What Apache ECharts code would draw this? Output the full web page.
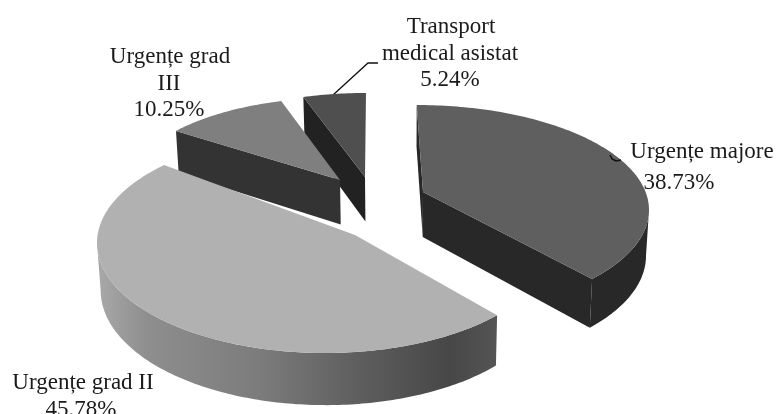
<!DOCTYPE html>
<html>
<head>
<meta charset="utf-8">
<style>html,body{margin:0;padding:0;background:#fff}#c{width:776px;height:414px}</style>
<script src="https://cdn.jsdelivr.net/npm/echarts@6/dist/echarts.min.js"></script>
</head>
<body>
<div id="c"></div>
<script>
// ---- data ----
const categories = ['Urgențe majore', 'Urgențe grad II', 'Urgențe grad III', 'Transport medical asistat'];
const shares = [38.73, 45.78, 10.25, 5.24];
const labelLines = [['Urgențe majore'], ['Urgențe grad II'], ['Urgențe grad', 'III'], ['Transport', 'medical asistat']];

// ---- presentation (one entry per category) ----
const FONT = '"Liberation Serif", "Times New Roman", serif';
const sliceStyle = [
  { ex:417, ey:210, rx:232, ry:105, ax:423, ay:192, spread:0.94,  rot:-4.25, top:'#5f5f5f', side:'#282828', faces:['start','end'], layer:3 },
  { ex:325, ey:243, rx:228, ry:110, ax:355, ay:235, spread:1.117, rot:1.2,   top:'#b1b1b1', side:'#444444', faces:[],             layer:4 },
  { ex:340, ey:186.5, rx:210, ry:89, ax:340, ay:180, spread:0.951, rot:3.5,  top:'#7f7f7f', side:'#333333', faces:['start'],      layer:2 },
  { ex:366, ey:182, rx:210, ry:89,  ax:365, ay:177, spread:0.92,  rot:0.75,  top:'#4f4f4f', side:'#222222', faces:['start'],      layer:1 }
];
const labelPlaces = [
  [[702,151.5],[679,182.5]],
  [[83,382.5],[81,409.5]],
  [[170,56.5],[169,83.5],[169,109.5]],
  [[451,26.5],[450,53.5],[450,79.5]]
];
const wallGradient = { type:'linear', x:99, y:0, x2:498, y2:0, global:true, colorStops:[
  {offset:0,color:'#a8a8a8'},{offset:0.12,color:'#8e8e8e'},{offset:0.4,color:'#7c7c7c'},
  {offset:0.65,color:'#5e5e5e'},{offset:0.88,color:'#474747'},{offset:1,color:'#555555'}
]};

const rad = d => d * Math.PI / 180;
const depthAt = y => 41 + (y - 100) * 0.044;
const lower = p => [p[0] + (400 - p[0]) * 0.012, p[1] + depthAt(p[1])];

const total = shares.reduce((a, b) => a + b, 0);
let acc = 0;
const angles = shares.map(v => { const s = acc / total * 360; acc += v; return [s, acc / total * 360]; });

function renderItem(params) {
  const i = params.dataIndex, st = sliceStyle[i];
  const [t0, t1] = angles[i], mid = (t0 + t1) / 2;
  const toP = t => mid + (t - mid) * st.spread + st.rot;
  const pt = p => [st.ex + st.rx * Math.sin(rad(p)), st.ey - st.ry * Math.cos(rad(p))];
  const p0 = toP(t0), p1 = toP(t1);
  const arc = (a, b) => { const o = [], n = Math.max(2, Math.ceil(Math.abs(b - a))); for (let k = 0; k <= n; k++) o.push(pt(a + (b - a) * k / n)); return o; };
  const apex = [st.ax, st.ay];
  const children = [];
  const z = st.layer * 10;
  st.faces.forEach(f => {
    const e = pt(f === 'start' ? p0 : p1);
    children.push({ type:'polygon', z2:z, shape:{ points:[e, apex, lower(apex), lower(e)] }, style:{ fill:st.side } });
  });
  const w0 = Math.max(p0, 90), w1 = Math.min(p1, 270);
  if (w1 > w0) {
    const a = arc(w0, w1);
    children.push({ type:'polygon', z2:z + 1,
      shape:{ points:a.concat(a.slice().reverse().map(lower)) },
      style:{ fill: i === 1 ? wallGradient : st.side } });
  }
  children.push({ type:'polygon', z2:z + 2, shape:{ points:[apex].concat(arc(p0, p1)) }, style:{ fill:st.top } });
  labelLines[i].concat([shares[i].toFixed(2) + '%']).forEach((line, k) => {
    const pos = labelPlaces[i][k];
    children.push({ type:'text', z2:100, x:pos[0], y:pos[1],
      style:{ text:line, font:'23px ' + FONT, fill:'#1a1a1a', align:'center', verticalAlign:'middle' } });
  });
  return { type:'group', children };
}

const chart = echarts.init(document.getElementById('c'), null, { renderer:'canvas' });
chart.setOption({
  animation:false,
  backgroundColor:'#ffffff',
  series:[{
    type:'custom', coordinateSystem:'none', renderItem, silent:true,
    data:shares.map((v, i) => ({ name:categories[i], value:v }))
  }],
  graphic:[
    { type:'polyline', z:-1, shape:{ points:[[333,95],[368,63],[378,63]] }, style:{ stroke:'#111', lineWidth:1.3, fill:null } },
    { type:'polyline', z:5, shape:{ points:[[610,155],[612,159],[616,161],[621,160]] }, style:{ stroke:'#111', lineWidth:1.5, fill:null } }
  ]
});
</script>
</body>
</html>
